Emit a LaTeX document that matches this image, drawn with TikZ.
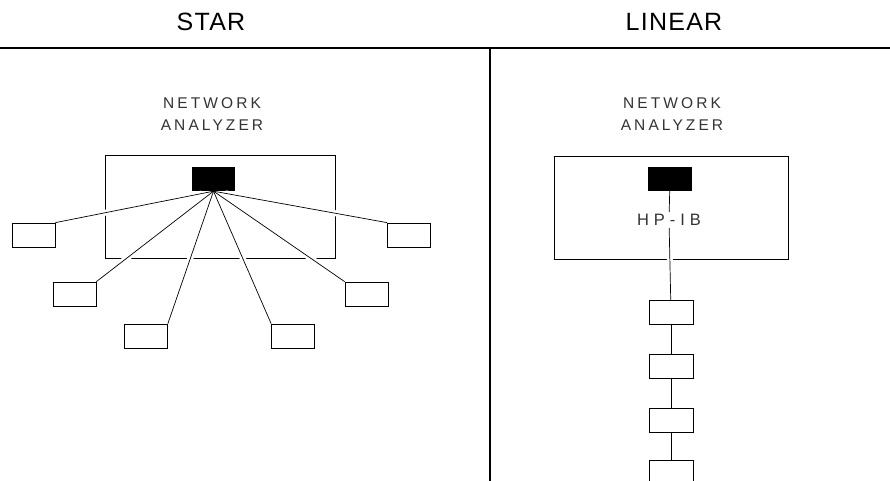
\documentclass[tikz,border=0pt]{standalone}
\usepackage{fontspec}
\setmainfont{Liberation Sans}
\usetikzlibrary{positioning}

\begin{document}
\begin{tikzpicture}[x=1pt,y=-1pt,node distance=29pt,
        title/.style={inner sep=0pt, font=\fontsize{25}{30}\selectfont\addfontfeature{LetterSpace=5}},
        caption/.style={align=center, inner sep=2pt, text=black!80, font=\fontsize{15.5}{22}\selectfont\addfontfeature{LetterSpace=20}},
        analyzer/.style={draw, line width=0.8pt, minimum width=230pt, minimum height=103pt, inner sep=0pt},
        port/.style={fill=black, minimum width=43pt, minimum height=24pt, inner sep=0pt},
        device/.style={draw, line width=0.7pt, minimum width=43pt, minimum height=24pt, inner sep=0pt},
        halo/.style={draw=white, line width=6pt, shorten <=12pt, shorten >=12pt},
        wire/.style={draw, line width=0.7pt}]
    \useasboundingbox (0,0) rectangle (890,481);
    % headings and frame
    \node[title] (star) at (211,22) {STAR};
    \node[title] (linear) at (674,22) {LINEAR};
    \draw[line width=1.6pt] (0,48) -- (890,48);
    \draw[line width=1.2pt] (490,48) -- (490,481);
    % star
    \node[caption] (sname) at (212,114) {NETWORK\\ANALYZER};
    \node[analyzer] (sbox) at (220,206.5) {};
    \node[port] (sport) at (213.5,179) {};
    \node[device] (sa) at (33.5,235) {};
    \node[device] (sb) at (74.5,294) {};
    \node[device] (sc) at (146,336) {};
    \node[device] (sd) at (293,336) {};
    \node[device] (se) at (366.5,294) {};
    \node[device] (sf) at (409,235) {};
    \foreach \d/\c in {sa/north east,sb/north east,sc/north east,sd/north west,se/north west,sf/north west}
        \draw[halo] (sport.south) -- (\d.\c);
    \foreach \d/\c in {sa/north east,sb/north east,sc/north east,sd/north west,se/north west,sf/north west}
        \draw[wire] (sport.south) -- (\d.\c);
    % linear
    \node[caption] (lname) at (672,114) {NETWORK\\ANALYZER};
    \node[analyzer, minimum width=234pt] (lbox) at (671,207.5) {};
    \node[port, minimum width=44pt] (lport) at (670,179) {};
    \node[caption, font=\fontsize{16.5}{20}\selectfont\addfontfeature{LetterSpace=30}] (hpib) at (669,220) {HP-IB};
    \node[device, minimum width=44pt] (l1) at (671,312.5) {};
    \node[device, minimum width=44pt, below=29pt of l1] (l2) {};
    \node[device, minimum width=44pt, below=29pt of l2] (l3) {};
    \node[device, minimum width=44pt, below=28pt of l3] (l4) {};
    \draw[halo] (hpib) -- (l1);
    \draw[wire] (lport) -- (hpib);
    \draw[wire] (hpib) -- (l1);
    \foreach \a/\b in {l1/l2,l2/l3,l3/l4} \draw[wire] (\a) -- (\b);
\end{tikzpicture}
\end{document}
